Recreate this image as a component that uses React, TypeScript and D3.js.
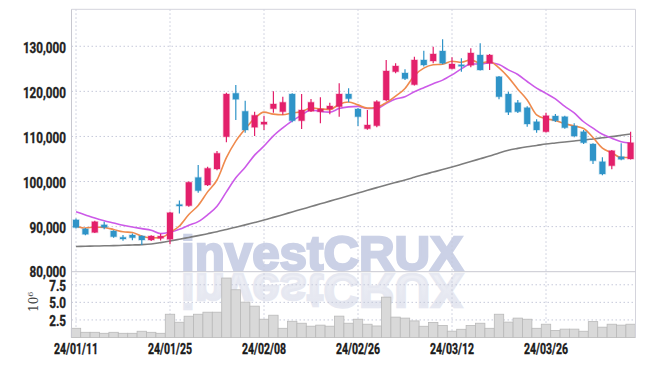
import React from "react";
import * as d3 from "d3";

const dates = [
  "24/01/11","24/01/12","24/01/15","24/01/16","24/01/17","24/01/18","24/01/19","24/01/22","24/01/23","24/01/24",
  "24/01/25","24/01/26","24/01/29","24/01/30","24/01/31","24/02/01","24/02/02","24/02/05","24/02/06","24/02/07",
  "24/02/08","24/02/13","24/02/14","24/02/15","24/02/16","24/02/19","24/02/20","24/02/21","24/02/22","24/02/23",
  "24/02/26","24/02/27","24/02/28","24/02/29","24/03/04","24/03/05","24/03/06","24/03/07","24/03/08","24/03/11",
  "24/03/12","24/03/13","24/03/14","24/03/15","24/03/18","24/03/19","24/03/20","24/03/21","24/03/22","24/03/25",
  "24/03/26","24/03/27","24/03/28","24/03/29","24/04/01","24/04/02","24/04/03","24/04/04","24/04/05","24/04/08",
];

const opens = [
  91500,89500,88700,90400,89030,87630,88140,87920,87030,87400,
  87190,94900,94640,100900,99230,102780,109940,119570,115580,112030,
  112690,116150,115490,119410,113490,115580,115490,116090,116600,119410,
  116090,111720,112380,118080,124360,124070,121480,126960,126730,128950,
  125030,125900,125780,128060,126220,123250,119410,117480,116380,113270,
  111050,114530,114380,112320,111050,108320,104400,103510,105510,105000,
];
const highs = [
  91800,89700,91300,91100,89200,88140,88500,88100,88100,88400,
  93300,95800,100000,103670,103300,106770,119700,121410,117930,115490,
  114600,120010,118810,119600,119410,118300,118680,117490,121790,120680,
  116300,115870,118000,126960,126220,124890,127690,129020,129900,131550,
  127550,127330,129550,130660,128300,123400,119920,118080,116700,113800,
  115270,114980,114600,112920,111430,108500,105370,107000,108480,111050,
];
const lows = [
  89600,88100,88600,89400,87540,86880,86970,85920,86800,86900,
  86080,92900,94400,97500,99000,102500,108700,113650,110830,110100,
  111430,115270,114820,113140,111650,115400,112920,114910,114380,117570,
  112320,111500,112030,117800,124000,122520,121300,125500,126220,126000,
  124900,124360,125330,124600,124740,118240,114760,115200,112160,110830,
  110900,113200,111700,109810,108320,103890,101400,102710,104700,104900,
];
const closes = [
  89800,88300,91090,89850,87760,87250,87540,87030,87920,87900,
  93090,94700,99830,97970,102930,106260,119410,118240,111430,114690,
  113200,117200,117570,113490,115870,117570,116090,116750,119410,118370,
  114380,112540,117710,124520,125620,122810,126960,125850,128290,126220,
  126070,125800,128510,124740,128060,118810,115360,115490,112760,111430,
  114600,113490,111940,110100,108610,104620,101670,106840,104930,108610,
];
// volume, in millions of shares
const volumes = [
  1.31,0.74,0.74,0.6,0.74,0.6,0.6,0.89,0.74,0.6,
  3.31,2.17,3.03,3.31,3.6,3.6,8.46,6.79,5.03,4.46,
  2.6,3.17,1.31,2.31,2.03,1.61,1.76,1.61,3.04,2.03,
  2.6,1.89,1.64,5.74,2.9,2.76,2.36,1.6,2.14,1.71,
  0.9,1.17,1.7,2.03,1.31,3.31,2.19,2.76,2.6,1.31,
  1.89,1.0,1.19,1.19,0.89,2.26,1.47,1.89,1.76,1.89,
];
// moving averages before a full window is available
const ma5Head = [90100, 89700, 89900, 89800];
const ma10Head = [93300, 92600, 91900, 91300, 90800, 90300, 89900, 89550, 89200];
// long-term moving average
const maLong = [
  85590,85640,85690,85740,85790,85850,85920,86000,86150,86450,
  86810,87200,87600,88000,88430,88870,89380,89880,90380,90920,
  91460,92050,92650,93250,93850,94450,95050,95650,96250,96850,
  97450,98050,98650,99250,99800,100350,100950,101550,102100,102650,
  103220,103830,104450,105050,105650,106350,106950,107350,107700,108000,
  108320,108550,108780,109000,109200,109450,109700,109950,110250,110540,
];
const priceTicks = [80000, 90000, 100000, 110000, 120000, 130000];
const volTicks = [2.5, 5.0, 7.5];
const labelEvery = 10;

const UP = "#e3206b";
const DOWN = "#2f94c8";

function movingAvg(n: number, head: number[]) {
  return closes.map((_, i) => (i < n - 1 ? head[i] : (d3.mean(closes.slice(i - n + 1, i + 1)) as number)));
}

export default function App() {
  const W = 645, H = 366;
  const left = 71.5, right = 635.5, top = 9.3, priceBottom = 271.7, volBottom = 337.5;
  const idx = d3.range(dates.length);
  const x = d3.scalePoint<number>().domain(idx).range([left - 0.2, right - 0.2]).padding(0.5);
  const step = x.step();
  const y = d3.scaleLinear().domain([80000, 138200]).range([priceBottom, top]);
  const yv = d3.scaleLinear().domain([0, 9.36]).range([volBottom, priceBottom]);
  const fmt = d3.format(",");
  const cw = 6;

  const ma5 = movingAvg(5, ma5Head);
  const ma10 = movingAvg(10, ma10Head);
  const line = d3
    .line<number>()
    .x((_, i) => x(i) as number)
    .y((d) => y(d))
    .curve(d3.curveMonotoneX);

  const gridColor = "#c6c9da";
  const dash = "1.5,2.5";
  const labelFont = "Roboto, 'DejaVu Sans', sans-serif";
  const labelIdx = idx.filter((i) => i % labelEvery === 0);

  return (
    <svg width={W} height={H} style={{ position: "absolute", left: 0, top: 0, background: "#fff" }}>
      <defs>
        <linearGradient id="refl" x1="0" y1="0" x2="0" y2="1">
          <stop offset="0" stopColor="#e0e3ee" />
          <stop offset="1" stopColor="#f1f2f7" />
        </linearGradient>
        <clipPath id="volClip">
          <rect x={left} y={priceBottom + 1} width={right - left} height={volBottom - priceBottom + 2} />
        </clipPath>
      </defs>

      {/* watermark */}
      <text
        x={181}
        y={270}
        textLength={282}
        lengthAdjust="spacingAndGlyphs"
        fontFamily="'Liberation Sans', Arial, sans-serif"
        fontWeight={700}
        fontSize={49}
        fill="#cbd1e6"
        stroke="#cbd1e6"
        strokeWidth={2.4}
      >
        investCRUX
      </text>
      <g clipPath="url(#volClip)">
        <text
          transform="translate(0,544) scale(1,-1)"
          x={181}
          y={270}
          textLength={282}
          lengthAdjust="spacingAndGlyphs"
          fontFamily="'Liberation Sans', Arial, sans-serif"
          fontWeight={700}
          fontSize={49}
          fill="url(#refl)"
          stroke="#e6e8f1"
          strokeWidth={2.4}
        >
          investCRUX
        </text>
      </g>

      {/* grid */}
      {priceTicks.filter((t) => t > 80000).map((t) => (
        <line key={"pg" + t} x1={left} x2={right} y1={y(t)} y2={y(t)} stroke={gridColor} strokeDasharray={dash} />
      ))}
      {volTicks.map((t) => (
        <line key={"vg" + t} x1={left} x2={right} y1={yv(t)} y2={yv(t)} stroke={gridColor} strokeDasharray={dash} />
      ))}
      {labelIdx.map((i) => (
        <line key={"xg" + i} x1={x(i)} x2={x(i)} y1={top} y2={volBottom} stroke={gridColor} strokeDasharray={dash} />
      ))}

      {/* volume bars */}
      {volumes.map((v, i) => (
        <rect
          key={"v" + i}
          x={(x(i) as number) - step / 2}
          y={yv(v)}
          width={step}
          height={volBottom - yv(v)}
          fill="#d9d9d9"
          stroke="#b9b9b9"
          strokeWidth={0.8}
        />
      ))}

      {/* moving averages */}
      <path d={line(maLong) || ""} fill="none" stroke="#7d7d7d" strokeWidth={1.6} />
      <path d={line(ma10) || ""} fill="none" stroke="#cc5ae8" strokeWidth={1.6} />
      <path d={line(ma5) || ""} fill="none" stroke="#ef8a4d" strokeWidth={1.6} />

      {/* candles */}
      {closes.map((c, i) => {
        const o = opens[i];
        const color = c >= o ? UP : DOWN;
        const cx = x(i) as number;
        const yTop = y(Math.max(o, c));
        const yBot = y(Math.min(o, c));
        return (
          <g key={"c" + i}>
            <line x1={cx} x2={cx} y1={y(highs[i])} y2={y(lows[i])} stroke={color} strokeWidth={1.2} />
            <rect
              x={cx - cw / 2}
              y={yTop}
              width={cw}
              height={Math.max(1.5, yBot - yTop)}
              fill={color}
              stroke={color}
              strokeOpacity={0.25}
              strokeWidth={1.5}
            />
          </g>
        );
      })}

      {/* frame */}
      <line x1={left} x2={right} y1={top} y2={top} stroke="#d4d4dc" />
      <line x1={left} x2={left} y1={top} y2={volBottom} stroke="#c8c8d0" />
      <line x1={right} x2={right} y1={top} y2={volBottom} stroke="#d4d4dc" />
      <line x1={left} x2={right} y1={priceBottom} y2={priceBottom} stroke="#c8c8d0" />

      {/* price labels */}
      {priceTicks.map((t) => (
        <text
          key={"pl" + t}
          transform={`translate(66,${y(t) + (t === 80000 ? 5 : 6.5)}) scale(0.78,1)`}
          textAnchor="end"
          fontFamily={labelFont}
          fontWeight={700}
          fontSize={15}
          fill="#222"
          stroke="#222"
          strokeWidth={0.35}
        >
          {fmt(t)}
        </text>
      ))}
      {/* volume labels */}
      {volTicks.map((t) => (
        <text
          key={"vl" + t}
          transform={`translate(66,${yv(t) + 6}) scale(0.78,1)`}
          textAnchor="end"
          fontFamily={labelFont}
          fontWeight={700}
          fontSize={15}
          fill="#222"
          stroke="#222"
          strokeWidth={0.35}
        >
          {t.toFixed(1)}
        </text>
      ))}
      <text
        transform="translate(38,312) rotate(-90)"
        fontFamily="'DejaVu Serif', serif"
        fontSize={12}
        fill="#444"
      >
        10
        <tspan dy={-5} fontSize={8}>
          6
        </tspan>
      </text>

      {/* date labels */}
      {labelIdx.map((i) => (
        <text
          key={"xl" + i}
          transform={`translate(${x(i)},353.5) scale(0.75,1)`}
          textAnchor="middle"
          fontFamily={labelFont}
          fontWeight={700}
          fontSize={14}
          fill="#1a1a1a"
          stroke="#1a1a1a"
          strokeWidth={0.35}
        >
          {dates[i]}
        </text>
      ))}
    </svg>
  );
}
